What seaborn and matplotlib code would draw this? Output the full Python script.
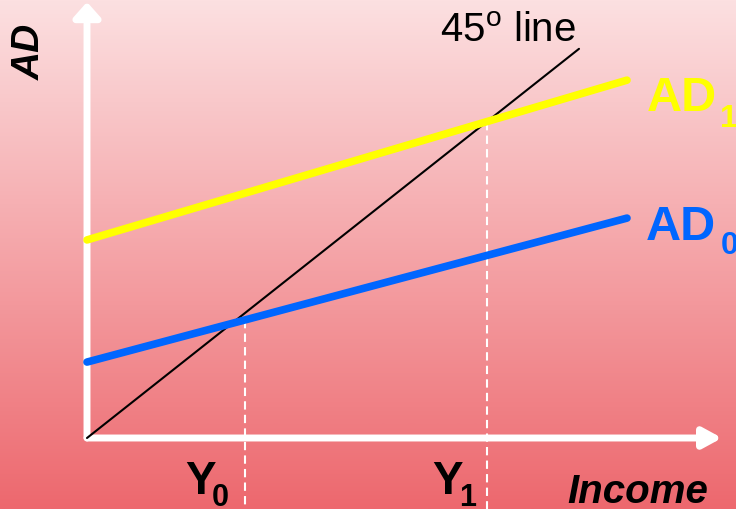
import numpy as np
import seaborn as sns
import matplotlib.pyplot as plt

sns.set_theme(style='white')
plt.rcParams['font.family'] = ['Liberation Sans', 'DejaVu Sans']
plt.rcParams['mathtext.fontset'] = 'custom'
plt.rcParams['mathtext.rm'] = 'Liberation Sans'

# data (income units on x, aggregate demand on y; 45-degree line is y = x)
income = [0, 135]
ad0 = [24, 69.5]
ad1 = [62.6, 113.1]
line45 = [0, 123]
eq_income = [39.5, 100]   # Y0, Y1
eq_ad = [37.3, 99.9]
eq_labels = ['0', '1']
ad_labels = ['AD', 'AD']
ad_subs = ['0', '1']

# pixel <-> data mapping of the figure (origin at pixel 87, 438)
SX, SY = 4.0, 3.164
X0, Y0PX = 87, 438
W, H = 736, 509


def px(x, y):
    return (x - X0) / SX, (Y0PX - y) / SY


fig = plt.figure(figsize=(7.36, 5.09), dpi=100)
ax = fig.add_axes([0, 0, 1, 1])
xmin, ymax = px(0, 0)
xmax, ymin = px(W, H)
ax.set_xlim(xmin, xmax)
ax.set_ylim(ymin, ymax)
ax.axis('off')

# background gradient
top = np.array([252, 224, 225]) / 255
bot = np.array([237, 104, 110]) / 255
t = np.linspace(0, 1, 256)[:, None]
grad = (top * (1 - t) + bot * t)[:, None, :]
ax.imshow(grad, extent=[xmin, xmax, ymin, ymax], aspect='auto', zorder=0)

# dashed verticals from equilibrium down
for xe, ye in zip(eq_income, eq_ad):
    ax.plot([xe, xe], [ye, ymin], color='white', lw=1.5, dashes=(4, 2.5), zorder=1)

# axes with arrows
ax.annotate('', xy=px(722, 438), xytext=(0, 0),
            arrowprops=dict(arrowstyle='-|>,head_length=0.55,head_width=0.3',
                            lw=5, color='white', mutation_scale=20, shrinkA=0, shrinkB=0),
            zorder=2)
ax.annotate('', xy=px(87, 2), xytext=(0, 0),
            arrowprops=dict(arrowstyle='-|>,head_length=0.45,head_width=0.4',
                            lw=5, color='white', mutation_scale=20, shrinkA=0, shrinkB=0),
            zorder=2)

sns.lineplot(x=line45, y=line45, ax=ax, color='black', lw=1.5, zorder=3)
sns.lineplot(x=income, y=ad0, ax=ax, color='#0066ff', lw=5.5, zorder=4)
sns.lineplot(x=income, y=ad1, ax=ax, color='#ffff00', lw=5.5, zorder=4)

# labels
ax.text(*px(30, 52), 'AD', rotation=90, ha='center', va='center',
        fontsize=28, fontweight='bold', fontstyle='italic', color='black')
ax.text(*px(440, 42), r'45$^{\mathrm{o}}$ line', ha='left', va='baseline',
        fontsize=29, color='black')

ax.text(*px(647, 111), ad_labels[1], ha='left', va='baseline',
        fontsize=35, fontweight='bold', color='#ffff00')
ax.text(*px(720, 127), ad_subs[1], ha='left', va='baseline',
        fontsize=23, fontweight='bold', color='#ffff00')
ax.text(*px(646, 240), ad_labels[0], ha='left', va='baseline',
        fontsize=35, fontweight='bold', color='#0066ff')
ax.text(*px(721, 254), ad_subs[0], ha='left', va='baseline',
        fontsize=23, fontweight='bold', color='#0066ff')

for xl, lab in zip([185, 432], eq_labels):
    ax.text(*px(xl, 494), 'Y', ha='left', va='baseline',
            fontsize=33, fontweight='bold', color='black')
    ax.text(*px(xl + 27, 506), lab, ha='left', va='baseline',
            fontsize=22, fontweight='bold', color='black')

ax.text(*px(567, 503), 'Income', ha='left', va='baseline',
        fontsize=29, fontweight='bold', fontstyle='italic', color='black')

fig.savefig('out.png', dpi=100)
